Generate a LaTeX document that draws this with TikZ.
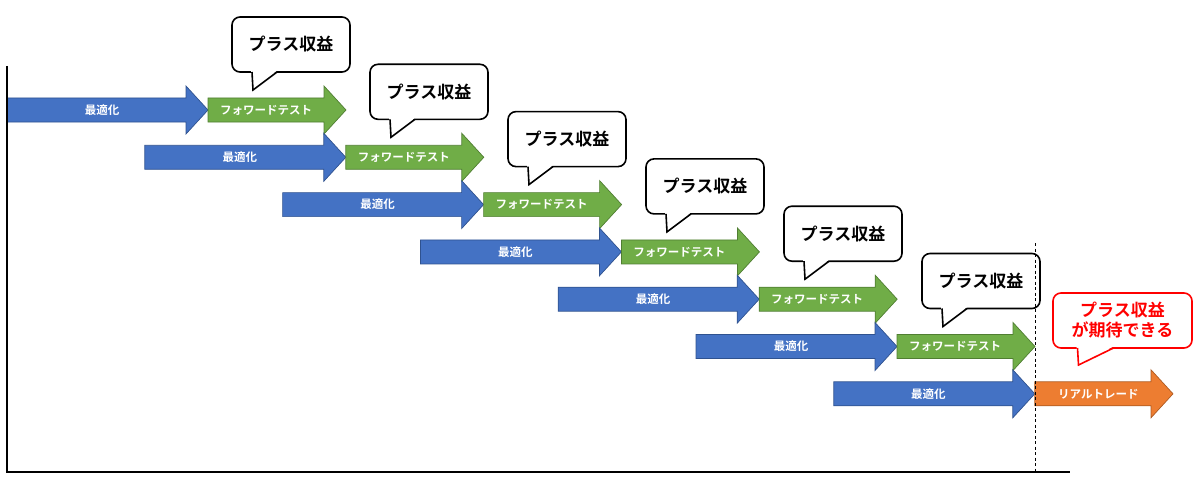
\documentclass[tikz,border=0pt]{standalone}
\usepackage{fontspec}
\newfontfamily\jp{Noto Sans CJK JP}[BoldFont={Noto Sans CJK JP Bold}]
\definecolor{optblue}{HTML}{4472C4}
\definecolor{optline}{HTML}{2F528F}
\definecolor{fwdgreen}{HTML}{70AD47}
\definecolor{fwdline}{HTML}{507E32}
\definecolor{realorange}{HTML}{ED7D31}
\definecolor{realline}{HTML}{AE5A21}
\newcommand{\blockarrow}[5]{%
  \filldraw[fill=#4,draw=#5,line width=0.7pt] (#1,#3-12) -- (#2-22,#3-12) -- (#2-22,#3-24)
    -- (#2,#3) -- (#2-22,#3+24) -- (#2-22,#3+12) -- (#1,#3+12) -- cycle;}
\begin{document}
\begin{tikzpicture}[x=1pt,y=-1pt,
    lbl/.style={text=white,font=\jp\bfseries\fontsize{11.5}{12}\selectfont},
    balloon/.style={draw=black,fill=white,line width=1.6pt,rounded corners=8pt,outer sep=0pt,
      minimum width=118pt,minimum height=55pt,font=\jp\bfseries\fontsize{17}{20}\selectfont}]
    \useasboundingbox (0,0) rectangle (1200,503);

    \coordinate (O) at (7,472);
    \coordinate (Ytop) at (7,66);
    \coordinate (Xend) at (1070,472);
    \coordinate (Dtop) at (1035,243);
    \coordinate (Dbot) at (1035,472);

    \foreach \i in {0,...,5} {
        \pgfmathsetmacro\xa{7+137.8*\i}
        \pgfmathsetmacro\xb{208+137.8*\i}
        \pgfmathsetmacro\xc{346+137.8*\i}
        \pgfmathsetmacro\yy{110+47.3*\i}
        \blockarrow{\xa}{\xb}{\yy}{optblue}{optline}
        \blockarrow{\xb}{\xc}{\yy}{fwdgreen}{fwdline}
        \node[lbl] (opt\i) at ({(\xa+\xb-11)/2},\yy) {最適化};
        \node[lbl] (fwd\i) at ({(\xb+\xc-22)/2},\yy) {フォワードテスト};
    }
    \blockarrow{833.8}{1034.8}{393.8}{optblue}{optline}
    \blockarrow{1034.8}{1173}{393.8}{realorange}{realline}
    \node[lbl] (opt6) at (928.3,393.8) {最適化};
    \node[lbl] (real) at (1098.4,393.8) {リアルトレード};

    \foreach \i in {0,...,5} {
        \node[balloon] (gain\i) at (291+138*\i,44.5+47.3*\i) {プラス収益};
        \fill[white] ([shift={(-40,-2)}]gain\i.south) -- ([shift={(-38,17)}]gain\i.south)
            -- ([shift={(-13,-2)}]gain\i.south) -- cycle;
        \draw[line width=1.6pt] ([shift={(-39,0)}]gain\i.south) -- ([shift={(-38,18)}]gain\i.south)
            coordinate (tip\i) -- ([shift={(-14,0)}]gain\i.south);
    }

    \node[balloon,draw=red,text=red,align=center,minimum width=139pt] (expect) at (1122.5,320.5)
        {プラス収益\\が期待できる};
    \fill[white] ([shift={(-46,-2)}]expect.south) -- ([shift={(-44,16)}]expect.south)
        -- ([shift={(-8,-2)}]expect.south) -- cycle;
    \draw[red,line width=1.6pt] ([shift={(-45,0)}]expect.south) -- ([shift={(-44,17)}]expect.south)
        coordinate (tipR) -- ([shift={(-9,0)}]expect.south);

    \draw[line width=1.6pt] (Ytop) -- (O) -- (Xend);
    \draw[dash pattern=on 3pt off 2.5pt,line width=0.8pt] (Dtop) -- (Dbot);
\end{tikzpicture}
\end{document}
